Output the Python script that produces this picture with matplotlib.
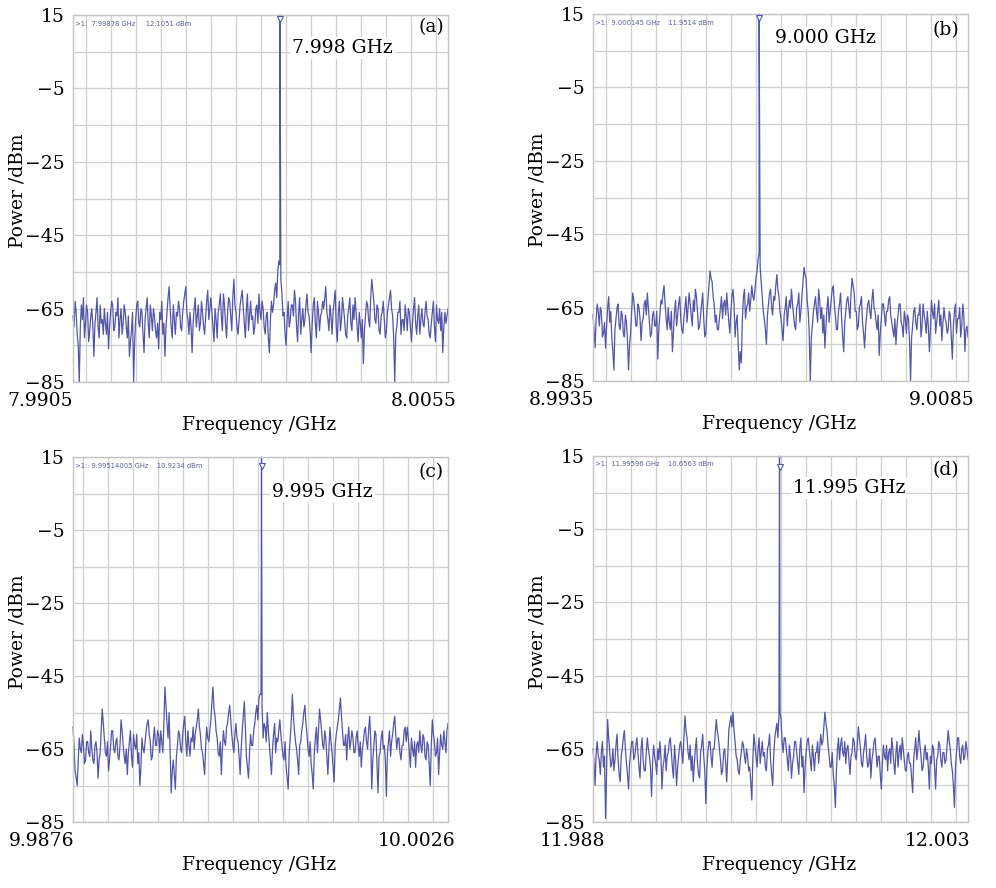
import numpy as np
import matplotlib
matplotlib.use("Agg")
import matplotlib.pyplot as plt

plt.rcParams['font.family'] = ['DejaVu Serif']

# ---- data ----
panel_names = ['(a)', '(b)', '(c)', '(d)']
f_start = [7.9905, 8.9935, 9.9876, 11.988]
f_stop = [8.0055, 9.0085, 10.0026, 12.003]
f_start_labels = ['7.9905', '8.9935', '9.9876', '11.988']
f_stop_labels = ['8.0055', '9.0085', '10.0026', '12.003']
carrier_labels = ['7.998 GHz', '9.000 GHz', '9.995 GHz', '11.995 GHz']
marker_texts = [
    '>1:  7.99878 GHz     12.1051 dBm',
    '>1:  9.000145 GHz    11.9514 dBm',
    '>1:  9.99514005 GHz    10.9234 dBm',
    '>1:  11.99596 GHz    10.6563 dBm',
]
peak_freq = [7.99878, 9.000145, 9.99514, 11.99546]
peak_trace = [15.0, 15.0, 15.0, 15.0]
peak_marker = [13.8, 13.8, 12.5, 12.0]

noise_a = [
    -67, -70, -63, -66, -72, -75, -85, -70, -64, -68, -62, -73, -69, -64, -66, -74, -71, -67, -65, -70, -78, -69, -66, -62, -70, -73, -64, -69, -68, -72,
    -65, -69, -72, -66, -76, -70, -66, -63, -64, -71, -70, -66, -67, -62, -73, -68, -65, -72, -69, -64, -66, -70, -73, -67, -78, -74, -71, -66, -85, -74,
    -68, -64, -63, -69, -70, -65, -66, -72, -77, -68, -65, -62, -69, -73, -64, -67, -71, -65, -67, -71, -73, -69, -76, -66, -68, -63, -72, -69, -78, -70,
    -66, -62, -59, -65, -70, -73, -64, -68, -72, -66, -67, -63, -65, -70, -71, -66, -63, -61, -59, -66, -68, -72, -66, -70, -77, -69, -65, -62, -70, -67,
    -64, -71, -69, -63, -66, -70, -72, -67, -63, -60, -68, -65, -62, -66, -70, -74, -65, -68, -73, -66, -64, -61, -67, -71, -61, -64, -69, -73, -66, -62,
    -63, -67, -71, -62, -57, -64, -66, -70, -72, -68, -64, -62, -60, -65, -69, -73, -65, -61, -71, -67, -63, -68, -67, -72, -70, -65, -64, -69, -61, -66,
    -68, -63, -65, -70, -72, -67, -66, -73, -77, -68, -63, -66, -64, -60, -58, -62, -55, -52, -53, -57, -61, -67, -66, -72, -75, -68, -63, -70, -68, -64,
    -64, -67, -60, -63, -70, -74, -66, -62, -72, -68, -65, -70, -68, -64, -61, -66, -67, -71, -77, -69, -64, -62, -69, -73, -63, -66, -71, -67, -66, -63,
    -65, -62, -59, -66, -68, -71, -64, -67, -72, -66, -63, -60, -70, -74, -66, -63, -71, -68, -62, -65, -68, -72, -73, -67, -65, -62, -69, -71, -64, -68,
    -62, -66, -70, -74, -66, -69, -73, -68, -80, -71, -67, -63, -64, -68, -70, -62, -57, -60, -63, -68, -69, -64, -65, -71, -72, -67, -66, -63, -68, -73,
    -71, -66, -64, -62, -60, -65, -67, -73, -85, -72, -70, -66, -66, -63, -72, -68, -68, -71, -64, -67, -71, -65, -66, -70, -74, -69, -65, -62, -69, -72,
    -67, -64, -72, -68, -65, -69, -70, -66, -63, -67, -68, -72, -73, -69, -66, -63, -70, -74, -64, -68, -69, -65, -71, -66, -77, -70, -66, -69, -67, -65,
]
noise_b = [
    -67, -71, -76, -68, -64, -66, -70, -65, -66, -73, -72, -69, -76, -70, -65, -62, -69, -66, -73, -77, -82, -71, -68, -65, -64, -70, -71, -66, -67, -72,
    -73, -67, -69, -74, -82, -75, -72, -66, -61, -63, -66, -70, -70, -64, -65, -68, -74, -69, -68, -64, -63, -67, -61, -65, -69, -73, -72, -67, -66, -70,
    -70, -66, -79, -71, -67, -63, -64, -61, -59, -64, -68, -71, -65, -69, -71, -66, -77, -72, -66, -63, -70, -67, -64, -62, -68, -71, -72, -68, -65, -62,
    -69, -65, -61, -64, -67, -70, -63, -66, -60, -62, -66, -71, -70, -67, -64, -61, -68, -73, -72, -66, -63, -59, -55, -57, -58, -62, -64, -69, -67, -71,
    -71, -68, -65, -62, -68, -64, -63, -67, -61, -65, -69, -72, -66, -62, -60, -64, -73, -69, -67, -75, -82, -77, -80, -68, -62, -60, -68, -65, -64, -61,
    -66, -63, -59, -62, -63, -60, -57, -55, -52, -50, -54, -58, -62, -66, -68, -71, -75, -67, -64, -61, -60, -65, -67, -62, -63, -59, -56, -60, -62, -66,
    -68, -71, -74, -67, -65, -62, -70, -66, -63, -65, -60, -64, -67, -70, -71, -65, -64, -61, -69, -66, -62, -58, -54, -56, -57, -63, -66, -72, -85, -73,
    -70, -66, -64, -62, -66, -69, -60, -63, -68, -65, -72, -67, -76, -70, -65, -62, -69, -66, -63, -60, -59, -64, -67, -71, -71, -66, -64, -61, -68, -73,
    -77, -69, -66, -63, -62, -65, -68, -61, -57, -59, -61, -66, -66, -71, -70, -65, -64, -62, -69, -72, -76, -70, -67, -64, -63, -66, -68, -63, -60, -65,
    -66, -69, -71, -67, -78, -72, -68, -64, -64, -67, -70, -66, -66, -63, -62, -67, -69, -71, -73, -68, -75, -70, -67, -64, -64, -69, -70, -73, -66, -68,
    -72, -67, -68, -74, -85, -73, -70, -66, -65, -69, -71, -67, -67, -64, -73, -70, -64, -67, -69, -72, -66, -70, -77, -71, -63, -66, -68, -64, -72, -69,
    -66, -63, -70, -67, -74, -69, -65, -68, -69, -72, -71, -66, -67, -73, -79, -70, -66, -64, -72, -68, -68, -65, -73, -70, -64, -67, -77, -71, -70, -73,
]
noise_c = [
    -59, -64, -71, -73, -75, -68, -62, -65, -66, -61, -64, -69, -68, -63, -63, -66, -67, -60, -65, -68, -69, -64, -63, -66, -73, -68, -66, -60, -54, -58,
    -62, -66, -67, -63, -71, -68, -64, -60, -60, -65, -66, -63, -62, -67, -68, -64, -57, -60, -64, -67, -69, -65, -72, -66, -63, -60, -67, -70, -61, -64,
    -65, -61, -69, -66, -75, -70, -62, -65, -66, -63, -60, -58, -57, -61, -63, -68, -67, -62, -59, -64, -64, -60, -61, -66, -60, -63, -66, -58, -48, -53,
    -58, -62, -55, -66, -77, -71, -68, -72, -76, -67, -64, -60, -61, -65, -66, -61, -58, -56, -63, -67, -60, -64, -67, -62, -63, -59, -65, -61, -59, -57,
    -54, -59, -61, -65, -66, -69, -72, -64, -59, -62, -63, -60, -57, -52, -48, -54, -56, -60, -62, -66, -67, -63, -72, -65, -60, -63, -64, -59, -58, -55,
    -53, -57, -61, -64, -66, -61, -58, -62, -63, -67, -72, -65, -60, -56, -52, -59, -67, -70, -73, -66, -61, -64, -64, -60, -58, -55, -53, -57, -51, -50,
    -50, -53, -62, -58, -59, -63, -55, -60, -64, -68, -72, -65, -61, -58, -66, -62, -63, -60, -57, -61, -64, -67, -68, -63, -70, -73, -76, -66, -62, -57,
    -50, -56, -60, -63, -65, -68, -72, -64, -63, -60, -58, -55, -53, -58, -61, -65, -67, -63, -69, -72, -76, -66, -62, -59, -66, -60, -54, -57, -60, -64,
    -65, -60, -62, -67, -72, -65, -59, -63, -66, -70, -74, -64, -61, -59, -57, -54, -51, -56, -60, -64, -64, -61, -68, -62, -59, -65, -63, -60, -62, -66,
    -66, -62, -60, -64, -67, -63, -70, -65, -63, -60, -59, -63, -65, -60, -56, -62, -76, -68, -64, -60, -61, -69, -77, -67, -66, -62, -60, -65, -64, -68,
    -78, -66, -63, -60, -67, -63, -61, -58, -56, -61, -65, -62, -62, -66, -68, -64, -64, -60, -59, -63, -59, -62, -66, -70, -62, -65, -67, -63, -70, -64,
    -63, -66, -60, -64, -66, -61, -62, -67, -68, -63, -64, -69, -75, -64, -57, -61, -63, -67, -66, -62, -72, -66, -61, -64, -65, -60, -63, -66, -60, -58,
]
noise_d = [
    -65, -69, -75, -66, -63, -67, -68, -72, -66, -63, -70, -67, -84, -70, -57, -62, -66, -70, -69, -65, -71, -68, -64, -61, -68, -72, -74, -67, -65, -62,
    -60, -65, -69, -72, -76, -69, -66, -63, -63, -68, -67, -64, -62, -66, -70, -73, -65, -62, -68, -71, -71, -66, -62, -65, -67, -70, -78, -69, -64, -67,
    -69, -72, -65, -68, -63, -67, -76, -70, -68, -64, -71, -67, -66, -63, -62, -66, -70, -73, -64, -68, -75, -70, -67, -64, -63, -66, -69, -62, -56, -60,
    -62, -66, -68, -64, -71, -67, -74, -69, -65, -62, -69, -72, -73, -66, -64, -61, -67, -71, -80, -70, -66, -63, -63, -67, -70, -65, -65, -61, -57, -60,
    -62, -65, -68, -72, -71, -66, -65, -69, -74, -67, -60, -58, -56, -59, -55, -60, -63, -67, -68, -71, -72, -68, -66, -63, -64, -67, -69, -65, -67, -71,
    -70, -74, -79, -68, -61, -64, -67, -70, -65, -62, -69, -66, -63, -67, -66, -70, -71, -65, -64, -61, -68, -72, -75, -67, -62, -60, -58, -62, -56, -55,
    -57, -63, -66, -62, -62, -65, -68, -71, -64, -67, -73, -69, -67, -63, -63, -66, -69, -72, -65, -62, -70, -67, -77, -70, -66, -63, -62, -65, -68, -71,
    -64, -67, -71, -66, -66, -63, -69, -65, -61, -64, -63, -59, -55, -58, -60, -64, -67, -70, -70, -66, -72, -75, -81, -71, -65, -62, -68, -64, -62, -66,
    -67, -63, -69, -65, -64, -68, -72, -67, -66, -62, -63, -67, -68, -64, -59, -62, -65, -69, -70, -66, -64, -61, -67, -70, -69, -65, -73, -68, -66, -63,
    -62, -66, -70, -67, -67, -72, -76, -69, -64, -67, -68, -64, -71, -66, -65, -69, -62, -65, -69, -72, -66, -63, -70, -66, -64, -68, -62, -65, -68, -71,
    -71, -67, -66, -69, -69, -73, -77, -68, -65, -62, -68, -65, -60, -64, -67, -71, -70, -66, -64, -68, -66, -70, -76, -67, -69, -64, -65, -70, -76, -68,
    -67, -63, -64, -68, -70, -66, -66, -69, -68, -64, -60, -63, -65, -69, -71, -75, -81, -70, -66, -62, -62, -67, -69, -65, -64, -68, -67, -63, -65, -68,
]
noise_all = [noise_a, noise_b, noise_c, noise_d]

y_ticks = [15, 5, -5, -15, -25, -35, -45, -55, -65, -75, -85]
y_tick_labels = ['15', '', '\u22125', '', '\u221225', '', '\u221245', '', '\u221265', '', '\u221285']

# ---- layout (figure fractions) ----
axes_boxes = [
    [0.0733, 0.5698, 0.3765, 0.4133],
    [0.5954, 0.5709, 0.3765, 0.4133],
    [0.0733, 0.0743, 0.3765, 0.4110],
    [0.5954, 0.0743, 0.3765, 0.4122],
]
grid_first = [7.991, 8.994, 9.988, 11.9885]
start_lbl_x = [-0.088, -0.085, -0.083, -0.056]
stop_lbl_x = [0.936, 0.931, 0.915, 0.920]
carrier_lbl_pos = [(0.584, 0.910), (0.485, 0.935), (0.531, 0.904), (0.533, 0.913)]
panel_lbl_pos = [(0.955, 0.967), (0.941, 0.956), (0.955, 0.959), (0.941, 0.962)]

trace_color = '#5356a6'
grid_color = '#cfcfcf'
fs = 13.5

fig = plt.figure(figsize=(9.96, 8.88), dpi=100)

for k in range(4):
    ax = fig.add_axes(axes_boxes[k])
    noise = np.array(noise_all[k], dtype=float)
    freq = np.linspace(f_start[k], f_stop[k], len(noise))

    # put the carrier point into the sweep
    f_tr = np.append(freq, peak_freq[k])
    p_tr = np.append(noise, peak_trace[k])
    order = np.argsort(f_tr)
    ax.plot(f_tr[order], p_tr[order], color=trace_color, lw=0.9, clip_on=False)
    ax.plot([peak_freq[k]], [peak_marker[k]], marker='v', ms=5, mfc='white',
            mec=trace_color, mew=0.8, ls='none', zorder=4)

    ax.set_xlim(f_start[k], f_stop[k])
    ax.set_ylim(-85, 15)

    # grid
    ax.set_xticks(np.arange(15) * 0.001 + grid_first[k])
    ax.set_xticklabels([])
    ax.set_yticks(y_ticks)
    ax.set_yticklabels(y_tick_labels)
    ax.tick_params(axis='both', length=0, labelsize=fs, pad=6)
    ax.grid(True, color=grid_color, lw=0.9)
    ax.set_axisbelow(True)
    for sp in ax.spines.values():
        sp.set_color('#c4c4c4')
        sp.set_linewidth(1.0)

    # frequency end labels
    ax.text(start_lbl_x[k], -0.052, f_start_labels[k], transform=ax.transAxes,
            ha='center', va='center', fontsize=fs)
    ax.text(stop_lbl_x[k], -0.052, f_stop_labels[k], transform=ax.transAxes,
            ha='center', va='center', fontsize=fs)

    ax.text(0.495, -0.118, 'Frequency /GHz', transform=ax.transAxes,
            ha='center', va='center', fontsize=fs)
    ax.text(-0.147, 0.52, 'Power /dBm', transform=ax.transAxes, rotation=90,
            ha='center', va='center', fontsize=fs)

    ax.text(carrier_lbl_pos[k][0], carrier_lbl_pos[k][1], carrier_labels[k],
            transform=ax.transAxes, ha='left', va='center', fontsize=fs,
            bbox=dict(facecolor='white', edgecolor='none', pad=1.5))
    ax.text(panel_lbl_pos[k][0], panel_lbl_pos[k][1], panel_names[k],
            transform=ax.transAxes, ha='center', va='center', fontsize=fs)

    ax.text(0.006, 0.985, marker_texts[k], transform=ax.transAxes,
            ha='left', va='top', fontsize=4.9, color='#5a5e9c',
            family='DejaVu Sans')

fig.savefig('out.png', dpi=100)
